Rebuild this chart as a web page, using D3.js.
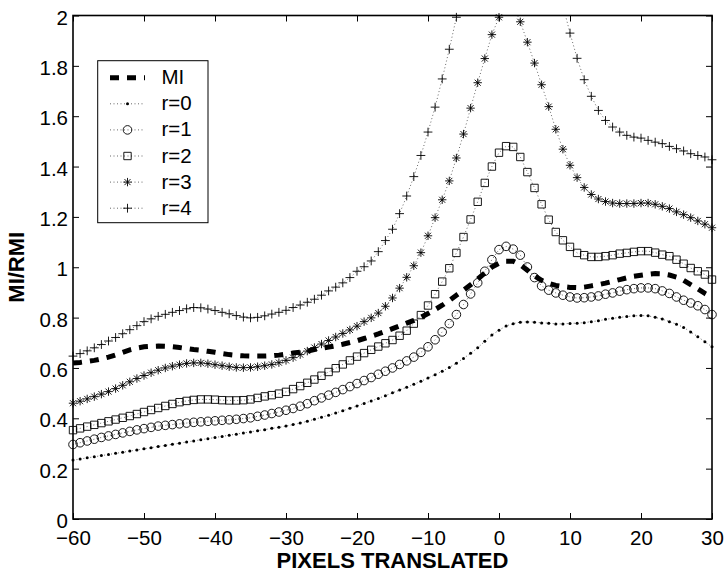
<!DOCTYPE html>
<html>
<head>
<meta charset="utf-8">
<script src="https://cdnjs.cloudflare.com/ajax/libs/d3/7.8.5/d3.min.js"></script>
<style>
body { margin: 0; background: #fff; }
svg { display: block; font-family: "Liberation Sans", Arial, Helvetica, sans-serif; }
</style>
</head>
<body>
<script>
// pixel shift -60..30, one sample per pixel
var pixelShift = d3.range(-60, 31);
var xTicks = [-60, -50, -40, -30, -20, -10, 0, 10, 20, 30];
var yTicks = [0, 0.2, 0.4, 0.6, 0.8, 1, 1.2, 1.4, 1.6, 1.8, 2];

var miVals = [
    0.620, 0.622, 0.626, 0.630, 0.636, 0.643, 0.652, 0.662, 0.672, 0.679,
    0.684, 0.686, 0.687, 0.686, 0.684, 0.681, 0.677, 0.673, 0.670, 0.666,
    0.662, 0.657, 0.653, 0.650, 0.648, 0.647, 0.647, 0.647, 0.648, 0.651,
    0.655, 0.659, 0.663, 0.667, 0.673, 0.678, 0.683, 0.688, 0.694, 0.701,
    0.708, 0.717, 0.726, 0.735, 0.745, 0.756, 0.767, 0.778, 0.789, 0.801,
    0.816, 0.832, 0.849, 0.868, 0.889, 0.909, 0.930, 0.953, 0.977, 1.001,
    1.016, 1.024, 1.024, 1.010, 0.988, 0.966, 0.948, 0.936, 0.928, 0.923,
    0.920, 0.919, 0.921, 0.926, 0.931, 0.937, 0.944, 0.951, 0.958, 0.964,
    0.968, 0.972, 0.975, 0.974, 0.969, 0.961, 0.948, 0.931, 0.914, 0.896,
    0.880];
var r0Vals = [
    0.234, 0.238, 0.243, 0.247, 0.252, 0.256, 0.261, 0.265, 0.270, 0.274,
    0.279, 0.283, 0.288, 0.292, 0.297, 0.301, 0.306, 0.310, 0.315, 0.319,
    0.324, 0.328, 0.333, 0.337, 0.342, 0.346, 0.351, 0.355, 0.360, 0.364,
    0.369, 0.375, 0.381, 0.388, 0.396, 0.404, 0.412, 0.421, 0.430, 0.440,
    0.449, 0.459, 0.469, 0.479, 0.490, 0.501, 0.512, 0.523, 0.535, 0.547,
    0.560, 0.573, 0.587, 0.602, 0.619, 0.638, 0.658, 0.680, 0.706, 0.731,
    0.750, 0.767, 0.776, 0.782, 0.783, 0.782, 0.779, 0.778, 0.775, 0.775,
    0.777, 0.778, 0.780, 0.784, 0.787, 0.793, 0.797, 0.801, 0.804, 0.807,
    0.808, 0.807, 0.801, 0.794, 0.784, 0.774, 0.761, 0.743, 0.724, 0.704,
    0.684];
var r1Vals = [
    0.296, 0.303, 0.310, 0.317, 0.324, 0.330, 0.336, 0.342, 0.348, 0.354,
    0.359, 0.364, 0.369, 0.372, 0.375, 0.378, 0.381, 0.384, 0.386, 0.388,
    0.390, 0.392, 0.394, 0.396, 0.399, 0.402, 0.408, 0.413, 0.419, 0.425,
    0.432, 0.439, 0.448, 0.458, 0.470, 0.481, 0.492, 0.503, 0.514, 0.526,
    0.538, 0.550, 0.562, 0.575, 0.587, 0.600, 0.614, 0.628, 0.643, 0.662,
    0.684, 0.712, 0.743, 0.776, 0.812, 0.852, 0.894, 0.938, 0.984, 1.030,
    1.070, 1.083, 1.072, 1.048, 1.001, 0.959, 0.926, 0.909, 0.898, 0.889,
    0.882, 0.878, 0.879, 0.882, 0.886, 0.893, 0.898, 0.905, 0.911, 0.915,
    0.918, 0.918, 0.915, 0.906, 0.896, 0.882, 0.869, 0.858, 0.847, 0.832,
    0.812];
var r2Vals = [
    0.353, 0.360, 0.367, 0.374, 0.381, 0.388, 0.395, 0.402, 0.409, 0.417,
    0.425, 0.433, 0.441, 0.449, 0.457, 0.464, 0.469, 0.473, 0.475, 0.475,
    0.474, 0.472, 0.471, 0.471, 0.472, 0.475, 0.481, 0.487, 0.492, 0.498,
    0.505, 0.516, 0.528, 0.541, 0.554, 0.569, 0.584, 0.599, 0.614, 0.630,
    0.645, 0.659, 0.672, 0.685, 0.698, 0.711, 0.728, 0.748, 0.776, 0.810,
    0.848, 0.893, 0.943, 0.996, 1.057, 1.120, 1.190, 1.260, 1.335, 1.400,
    1.455, 1.481, 1.478, 1.438, 1.378, 1.315, 1.250, 1.189, 1.140, 1.107,
    1.081, 1.057, 1.048, 1.041, 1.041, 1.044, 1.048, 1.054, 1.057, 1.061,
    1.064, 1.064, 1.058, 1.050, 1.044, 1.030, 1.014, 0.997, 0.984, 0.971,
    0.951];
var r3Vals = [
    0.460, 0.468, 0.477, 0.486, 0.496, 0.506, 0.518, 0.531, 0.545, 0.558,
    0.570, 0.581, 0.591, 0.600, 0.607, 0.613, 0.618, 0.620, 0.620, 0.617,
    0.613, 0.609, 0.605, 0.602, 0.601, 0.602, 0.605, 0.609, 0.614, 0.621,
    0.630, 0.641, 0.653, 0.667, 0.681, 0.695, 0.709, 0.723, 0.737, 0.751,
    0.766, 0.784, 0.799, 0.818, 0.845, 0.878, 0.917, 0.960, 1.006, 1.058,
    1.125, 1.197, 1.268, 1.343, 1.434, 1.529, 1.632, 1.733, 1.829, 1.924,
    1.993, 2.050, 2.040, 1.975, 1.894, 1.811, 1.725, 1.638, 1.548, 1.469,
    1.405, 1.356, 1.317, 1.289, 1.271, 1.261, 1.255, 1.253, 1.253, 1.253,
    1.255, 1.255, 1.250, 1.242, 1.233, 1.220, 1.209, 1.197, 1.184, 1.171,
    1.157];
var r4Vals = [
    0.647, 0.657, 0.668, 0.680, 0.693, 0.707, 0.721, 0.736, 0.752, 0.768,
    0.784, 0.795, 0.805, 0.813, 0.821, 0.828, 0.835, 0.840, 0.839, 0.834,
    0.828, 0.821, 0.815, 0.808, 0.802, 0.799, 0.801, 0.807, 0.814, 0.821,
    0.829, 0.840, 0.850, 0.861, 0.873, 0.889, 0.906, 0.921, 0.938, 0.959,
    0.984, 1.002, 1.025, 1.062, 1.106, 1.151, 1.213, 1.283, 1.360, 1.444,
    1.537, 1.636, 1.748, 1.866, 1.993, 2.140, 2.300, 2.470, 2.640, 2.800,
    2.920, 2.970, 2.940, 2.820, 2.660, 2.500, 2.360, 2.250, 2.140, 2.040,
    1.930, 1.830, 1.745, 1.679, 1.623, 1.583, 1.557, 1.537, 1.524, 1.517,
    1.513, 1.504, 1.497, 1.491, 1.480, 1.471, 1.462, 1.451, 1.444, 1.438,
    1.427];

var seriesNames = ["MI", "r=0", "r=1", "r=2", "r=3", "r=4"];
var seriesMarkers = ["none", "dot", "circle", "square", "star", "plus"];
var seriesVals = [miVals, r0Vals, r1Vals, r2Vals, r3Vals, r4Vals];

var width = 726, height = 573;
var axLeft = 73, axRight = 712, axTop = 15.5, axBottom = 519;
var labelSize = "20.5px";

var x = d3.scaleLinear().domain([-60, 30]).range([axLeft, axRight]);
var y = d3.scaleLinear().domain([0, 2]).range([axBottom, axTop]);

var svg = d3.select("body").append("svg")
    .attr("width", width)
    .attr("height", height);

svg.append("rect").attr("width", width).attr("height", height).style("fill", "#fff");

svg.append("clipPath").attr("id", "plotclip")
    .append("rect")
    .attr("x", axLeft).attr("y", axTop)
    .attr("width", axRight - axLeft).attr("height", axBottom - axTop);

function fmtX(d) {
    return d < 0 ? "\u2212" + (-d) : "" + d;
}
function fmtY(d) {
    return "" + (+d.toFixed(1));
}

// axes, ticks pointing inward like matlab
var gx = svg.append("g").attr("transform", "translate(0," + axBottom + ")")
    .call(d3.axisBottom(x).tickValues(xTicks).tickFormat(fmtX).tickSizeInner(-6).tickSizeOuter(0).tickPadding(11));
var gxTop = svg.append("g").attr("transform", "translate(0," + axTop + ")")
    .call(d3.axisTop(x).tickValues(xTicks).tickFormat("").tickSizeInner(-6).tickSizeOuter(0));
var gy = svg.append("g").attr("transform", "translate(" + axLeft + ",0)")
    .call(d3.axisLeft(y).tickValues(yTicks).tickFormat(fmtY).tickSizeInner(-6).tickSizeOuter(0).tickPadding(5));
var gyRight = svg.append("g").attr("transform", "translate(" + axRight + ",0)")
    .call(d3.axisRight(y).tickValues(yTicks).tickFormat("").tickSizeInner(-6).tickSizeOuter(0));

[gx, gxTop, gy, gyRight].forEach(function (g) {
    g.select(".domain").remove();
    g.selectAll(".tick line").style("stroke", "#000").style("stroke-width", 1);
    g.selectAll("text").style("font-size", labelSize).style("fill", "#000")
        .style("font-family", "'Liberation Sans', Arial, Helvetica, sans-serif");
});
gx.selectAll("text").attr("dy", "0.71em");
gy.selectAll("text").attr("dy", "0.42em");

svg.append("rect")
    .attr("x", axLeft).attr("y", axTop)
    .attr("width", axRight - axLeft).attr("height", axBottom - axTop)
    .style("fill", "none").style("stroke", "#000").style("stroke-width", 1.6);

svg.append("text")
    .attr("x", (axLeft + axRight) / 2).attr("y", 567.5)
    .attr("text-anchor", "middle")
    .style("font-size", "22px").style("font-weight", "bold")
    .text("PIXELS TRANSLATED");
svg.append("text")
    .attr("transform", "translate(24," + ((axTop + axBottom) / 2) + ") rotate(-90)")
    .attr("text-anchor", "middle")
    .style("font-size", "22px").style("font-weight", "bold")
    .text("MI/RMI");

function markerPath(type) {
    var p = d3.path();
    var s;
    if (type == "circle") {
        s = 4.3;
        p.moveTo(s, 0);
        p.arc(0, 0, s, 0, 2 * Math.PI);
    } else if (type == "square") {
        s = 3.7;
        p.rect(-s, -s, 2 * s, 2 * s);
    } else if (type == "plus") {
        s = 4.4;
        p.moveTo(-s, 0); p.lineTo(s, 0);
        p.moveTo(0, -s); p.lineTo(0, s);
    } else if (type == "star") {
        s = 4.2;
        var k = s * 0.72;
        p.moveTo(-s, 0); p.lineTo(s, 0);
        p.moveTo(0, -s); p.lineTo(0, s);
        p.moveTo(-k, -k); p.lineTo(k, k);
        p.moveTo(-k, k); p.lineTo(k, -k);
    }
    return p.toString();
}

function drawMarkers(g, type, pts) {
    if (type == "none") return;
    if (type == "dot") {
        g.selectAll("circle").data(pts).enter().append("circle")
            .attr("cx", function (d) { return x(d.x); })
            .attr("cy", function (d) { return y(d.v); })
            .attr("r", 1.5)
            .style("fill", "#000");
        return;
    }
    g.selectAll("path.mk").data(pts).enter().append("path")
        .attr("class", "mk")
        .attr("transform", function (d) { return "translate(" + x(d.x) + "," + y(d.v) + ")"; })
        .attr("d", markerPath(type))
        .style("fill", "none")
        .style("stroke", "#000")
        .style("stroke-width", 0.9);
}

var line = d3.line()
    .x(function (d) { return x(d.x); })
    .y(function (d) { return y(d.v); });

seriesVals.forEach(function (vals, i) {
    var pts = pixelShift.map(function (px, j) { return { x: px, v: vals[j] }; });
    var g = svg.append("g");
    var path = g.append("path")
        .attr("d", line(pts))
        .attr("clip-path", "url(#plotclip)")
        .style("fill", "none")
        .style("stroke", "#000");
    if (i == 0) {
        path.style("stroke-width", 5).style("stroke-dasharray", "9,8");
    } else {
        path.style("stroke-width", 0.6).style("stroke-dasharray", "1,2.5");
    }
    // markers only where the point lies inside the axes
    drawMarkers(g, seriesMarkers[i], pts.filter(function (d) { return d.v <= 2; }));
});

// legend
var lg = svg.append("g");
lg.append("rect")
    .attr("x", 97.7).attr("y", 60.7)
    .attr("width", 110.3).attr("height", 162)
    .style("fill", "#fff").style("stroke", "#000").style("stroke-width", 1);
seriesNames.forEach(function (name, i) {
    var cy = 77.7 + i * 26.1;
    var row = lg.append("g");
    var ln = row.append("line")
        .attr("x1", 110).attr("x2", 145)
        .attr("y1", cy).attr("y2", cy)
        .style("stroke", "#000");
    if (i == 0) {
        ln.style("stroke-width", 5).style("stroke-dasharray", "9,8");
    } else {
        ln.style("stroke-width", 0.6).style("stroke-dasharray", "1,2.5");
    }
    if (seriesMarkers[i] == "dot") {
        row.append("circle").attr("cx", 127.5).attr("cy", cy).attr("r", 1.5).style("fill", "#000");
    } else if (seriesMarkers[i] != "none") {
        row.append("path")
            .attr("transform", "translate(127.5," + cy + ")")
            .attr("d", markerPath(seriesMarkers[i]))
            .style("fill", "none").style("stroke", "#000").style("stroke-width", 0.9);
    }
    row.append("text")
        .attr("x", 161.5).attr("y", cy + 6.5)
        .style("font-size", labelSize)
        .text(name);
});
</script>
</body>
</html>
